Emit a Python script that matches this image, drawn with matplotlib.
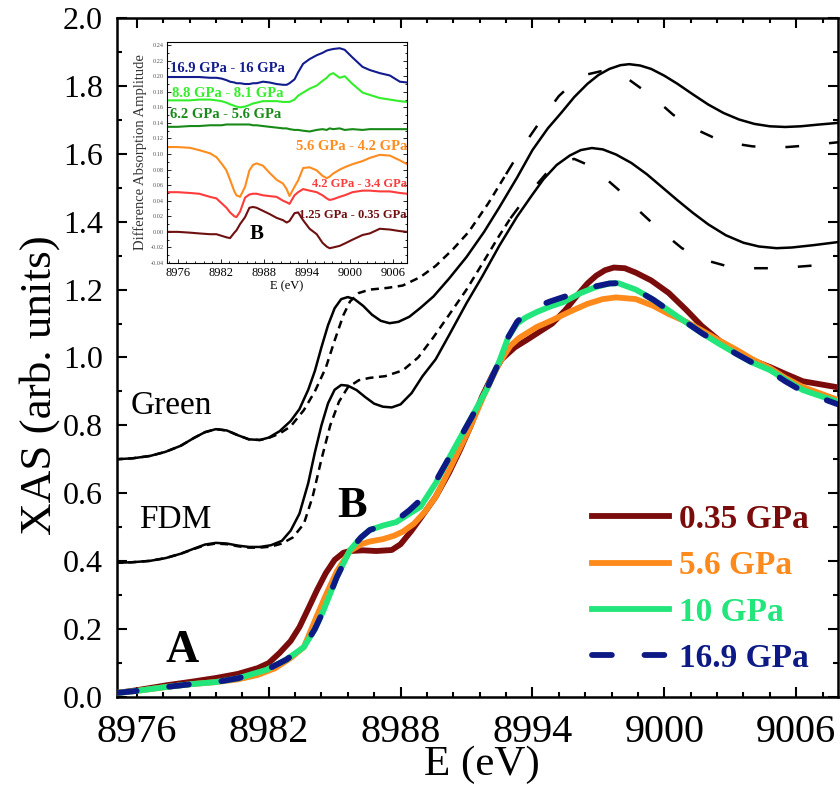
import numpy as np
import matplotlib.pyplot as plt
from matplotlib.ticker import MultipleLocator, FormatStrFormatter

plt.rcParams['font.family'] = ['Liberation Serif', 'DejaVu Serif']

# ---- measured XANES spectra (normalised) ----
e_035 = [8975.1, 8976, 8977.4, 8978.5, 8979.6, 8980.6, 8981.5, 8982.0, 8982.5, 8983.0,
         8983.4, 8983.8, 8984.2, 8984.6, 8985.0, 8985.4, 8985.7, 8986.3, 8986.9, 8987.6,
         8988.0, 8988.5, 8989.0, 8989.6, 8990.2, 8990.7, 8991.2, 8991.7, 8992.2, 8992.6,
         8993.2, 8993.7, 8994.3, 8994.9, 8995.5, 8996.0, 8996.5, 8996.9, 8997.3, 8997.7,
         8998.2, 8998.7, 8999.4, 9000.2, 9001.0, 9001.7, 9002.5, 9003.3, 9004.0, 9004.8,
         9005.5, 9006.3, 9007.9]
xas_035 = [0.012, 0.02, 0.035, 0.045, 0.056, 0.068, 0.085, 0.10, 0.13, 0.165,
           0.206, 0.26, 0.315, 0.365, 0.404, 0.425, 0.43, 0.432, 0.43, 0.433,
           0.45, 0.49, 0.535, 0.59, 0.66, 0.727, 0.80, 0.884, 0.95, 0.995,
           1.03, 1.05, 1.075, 1.10, 1.14, 1.18, 1.218, 1.241, 1.257, 1.265,
           1.263, 1.25, 1.227, 1.19, 1.14, 1.093, 1.05, 1.015, 0.992, 0.972,
           0.952, 0.93, 0.912]

e_56 = [8975.1, 8976, 8977.4, 8978.5, 8979.6, 8980.6, 8981.5, 8982.3, 8983.0, 8983.6,
        8984.2, 8984.6, 8985.1, 8985.7, 8986.2, 8986.6, 8987.2, 8987.7, 8988.1, 8988.6,
        8989.1, 8989.6, 8990.3, 8991.1, 8991.8, 8992.5, 8993.0, 8993.4, 8994.2, 8994.9,
        8995.7, 8996.5, 8997.2, 8997.8, 8998.7, 8999.5, 9000.2, 9001.0, 9001.7, 9002.5,
        9003.3, 9004.0, 9004.8, 9005.5, 9006.3, 9007.9]
xas_56 = [0.012, 0.018, 0.03, 0.038, 0.044, 0.052, 0.065, 0.085, 0.115, 0.147,
          0.24, 0.30, 0.37, 0.43, 0.45, 0.458, 0.465, 0.475, 0.487, 0.51,
          0.545, 0.59, 0.68, 0.786, 0.89, 0.985, 1.035, 1.058, 1.09, 1.11,
          1.135, 1.158, 1.172, 1.177, 1.172, 1.152, 1.128, 1.105, 1.08, 1.05,
          1.022, 0.995, 0.969, 0.94, 0.913, 0.875]

e_10 = [8975.1, 8976, 8977.4, 8978.5, 8979.6, 8980.6, 8981.9, 8982.8, 8983.6, 8984.1,
        8984.5, 8985.1, 8985.7, 8986.2, 8986.6, 8987.2, 8987.8, 8988.4, 8988.9, 8989.6,
        8990.4, 8991.2, 8991.9, 8992.5, 8992.9, 8993.3, 8993.7, 8994.2, 8994.8, 8995.4,
        8996.2, 8996.9, 8997.5, 8997.9, 8998.7, 8999.5, 9000.5, 9001.7, 9002.5, 9003.3,
        9004.0, 9004.8, 9005.5, 9006.3, 9007.9]
xas_10 = [0.012, 0.018, 0.03, 0.038, 0.044, 0.055, 0.08, 0.11, 0.147, 0.2,
          0.256, 0.353, 0.433, 0.47, 0.492, 0.505, 0.515, 0.54, 0.56, 0.63,
          0.727, 0.82, 0.904, 0.99, 1.06, 1.1, 1.118, 1.134, 1.15, 1.163,
          1.19, 1.208, 1.218, 1.219, 1.2, 1.17, 1.125, 1.072, 1.04, 1.01,
          0.985, 0.963, 0.935, 0.904, 0.869]

e_169 = e_10
xas_169 = [0.012, 0.018, 0.03, 0.038, 0.044, 0.055, 0.08, 0.11, 0.147, 0.2,
           0.256, 0.353, 0.433, 0.47, 0.492, 0.505, 0.52, 0.55, 0.58, 0.635,
           0.727, 0.82, 0.904, 0.99, 1.06, 1.105, 1.13, 1.15, 1.165, 1.178,
           1.195, 1.21, 1.218, 1.219, 1.2, 1.17, 1.125, 1.072, 1.04, 1.01,
           0.985, 0.96, 0.93, 0.9, 0.862]

# ---- simulations (offset), solid and dashed variants ----
e_green = [8975, 8975.8, 8976.6, 8977.3, 8978.0, 8978.6, 8979.1, 8979.6, 8980.1, 8980.6,
           8981.1, 8981.6, 8982.0, 8982.5, 8983.0, 8983.4, 8983.8, 8984.1, 8984.4, 8984.7,
           8985.0, 8985.3, 8985.6, 8985.9, 8986.3, 8986.7, 8987.1, 8987.5, 8987.9, 8988.4,
           8988.9, 8989.5, 8990.2, 8991.0, 8991.8, 8992.5, 8993.3, 8994.0, 8994.7, 8995.3,
           8995.9, 8996.5, 8997.0, 8997.5, 8998.0, 8998.4, 8998.9, 8999.4, 9000.0, 9000.6,
           9001.3, 9002.0, 9002.7, 9003.4, 9004.1, 9004.8, 9005.5, 9006.2, 9007.0, 9007.9]
green = [0.700, 0.703, 0.710, 0.722, 0.740, 0.763, 0.780, 0.789, 0.785, 0.771,
         0.759, 0.757, 0.764, 0.783, 0.813, 0.848, 0.905, 0.96, 1.03, 1.095,
         1.145, 1.172, 1.178, 1.172, 1.152, 1.126, 1.108, 1.101, 1.105, 1.12,
         1.146, 1.18, 1.232, 1.296, 1.37, 1.443, 1.53, 1.611, 1.675, 1.72,
         1.767, 1.806, 1.832, 1.850, 1.861, 1.864, 1.86, 1.85, 1.83, 1.806,
         1.775, 1.745, 1.72, 1.701, 1.688, 1.681, 1.679, 1.681, 1.686, 1.691]

e_green_d = [8975, 8975.8, 8976.6, 8977.3, 8978.0, 8978.6, 8979.1, 8979.6, 8980.1, 8980.6,
             8981.1, 8981.6, 8982.0, 8982.5, 8983.0, 8983.6, 8984.1, 8984.6, 8985.0, 8985.4,
             8985.7, 8986.1, 8986.6, 8987.4, 8988.1, 8988.9, 8989.6, 8990.4, 8991.1, 8992.0,
             8992.8, 8993.6, 8994.4, 8995.2, 8995.9, 8996.5, 8997.1, 8997.7, 8998.4, 8999.0,
             8999.7, 9000.4, 9001.0, 9001.7, 9002.4, 9003.2, 9004.0, 9004.8, 9005.6, 9006.6,
             9007.9]
green_d = [0.700, 0.703, 0.710, 0.722, 0.740, 0.763, 0.780, 0.789, 0.785, 0.771,
           0.759, 0.757, 0.763, 0.776, 0.797, 0.845, 0.90, 0.97, 1.05, 1.125,
           1.165, 1.19, 1.20, 1.205, 1.212, 1.237, 1.27, 1.32, 1.37, 1.455,
           1.54, 1.625, 1.70, 1.77, 1.812, 1.834, 1.843, 1.84, 1.818, 1.79,
           1.755, 1.715, 1.69, 1.664, 1.643, 1.63, 1.622, 1.619, 1.62, 1.625,
           1.634]

e_fdm = [8975, 8975.8, 8976.6, 8977.3, 8978.0, 8978.6, 8979.1, 8979.6, 8980.1, 8980.6,
         8981.1, 8981.6, 8982.1, 8982.6, 8983.0, 8983.4, 8983.8, 8984.1, 8984.4, 8984.7,
         8985.0, 8985.3, 8985.6, 8986.0, 8986.4, 8986.8, 8987.2, 8987.6, 8988.0, 8988.5,
         8989.0, 8989.6, 8990.2, 8991.0, 8991.7, 8992.5, 8993.3, 8994.0, 8994.5, 8995.1,
         8995.7, 8996.2, 8996.7, 8997.2, 8997.8, 8998.5, 8999.2, 8999.8, 9000.6, 9001.3,
         9002.0, 9002.8, 9003.6, 9004.3, 9005.1, 9005.8, 9006.8, 9007.9]
fdm = [0.395, 0.397, 0.401, 0.409, 0.422, 0.437, 0.449, 0.454, 0.452, 0.446,
       0.442, 0.442, 0.447, 0.46, 0.49, 0.54, 0.63, 0.72, 0.80, 0.865,
       0.905, 0.919, 0.917, 0.904, 0.883, 0.864, 0.855, 0.853, 0.862, 0.895,
       0.945, 0.995, 1.065, 1.16, 1.237, 1.33, 1.415, 1.48, 1.525, 1.567,
       1.595, 1.611, 1.617, 1.613, 1.598, 1.573, 1.54, 1.507, 1.463, 1.426,
       1.392, 1.36, 1.338, 1.327, 1.322, 1.324, 1.331, 1.34]

e_fdm_d = [8975, 8975.8, 8976.6, 8977.3, 8978.0, 8978.6, 8979.1, 8979.6, 8980.1, 8980.6,
           8981.1, 8981.6, 8982.1, 8982.6, 8983.1, 8983.6, 8984.0, 8984.4, 8984.8, 8985.2,
           8985.6, 8986.1, 8986.6, 8987.3, 8988.1, 8988.8, 8989.5, 8990.2, 8991.0, 8991.8,
           8992.5, 8993.0, 8993.8, 8994.6, 8995.3, 8995.9, 8996.5, 8997.1, 8997.9, 8998.8,
           8999.8, 9000.8, 9001.8, 9002.8, 9003.8, 9004.8, 9005.8, 9006.8, 9007.9]
fdm_d = [0.395, 0.397, 0.401, 0.409, 0.422, 0.436, 0.447, 0.452, 0.45, 0.444,
         0.44, 0.44, 0.443, 0.452, 0.47, 0.51, 0.59, 0.70, 0.80, 0.87,
         0.912, 0.933, 0.94, 0.945, 0.962, 1.0, 1.06, 1.125, 1.2, 1.285,
         1.36, 1.41, 1.48, 1.54, 1.575, 1.585, 1.568, 1.54, 1.495, 1.435,
         1.375, 1.322, 1.288, 1.27, 1.263, 1.263, 1.266, 1.271, 1.28]

# ---- difference spectra for the inset ----
e_diff = [8974.5, 8976, 8977.7, 8979, 8980.5, 8981.4, 8982.1, 8982.8, 8983.3, 8983.9,
          8984.2, 8984.7, 8985.4, 8986.0, 8986.5, 8987.0, 8987.9, 8988.8, 8989.8, 8990.7,
          8991.2, 8991.6, 8992.3, 8992.8, 8993.5, 8994.4, 8995.4, 8996.2, 8996.8, 8997.2,
          8997.7, 8998.6, 8999.3, 9000.4, 9001.8, 9002.8, 9004.2, 9005.6, 9007.0, 9008.0]
d_169_16 = [0.199, 0.199, 0.199, 0.199, 0.198, 0.198, 0.197, 0.195, 0.193, 0.192,
            0.191, 0.191, 0.190, 0.190, 0.191, 0.191, 0.193, 0.192, 0.190, 0.189,
            0.189, 0.191, 0.196, 0.205, 0.216, 0.222, 0.227, 0.230, 0.233, 0.234,
            0.235, 0.236, 0.234, 0.224, 0.212, 0.208, 0.204, 0.201, 0.193, 0.192]
d_88_81 = [0.169, 0.169, 0.169, 0.170, 0.170, 0.169, 0.168, 0.166, 0.164, 0.162,
           0.161, 0.160, 0.161, 0.163, 0.165, 0.166, 0.168, 0.168, 0.168, 0.167,
           0.167, 0.167, 0.170, 0.175, 0.179, 0.184, 0.188, 0.194, 0.198, 0.202,
           0.204, 0.198, 0.200, 0.190, 0.179, 0.176, 0.172, 0.170, 0.168, 0.167]
d_62_56 = [0.135, 0.135, 0.136, 0.136, 0.137, 0.137, 0.137, 0.138, 0.138, 0.138,
           0.138, 0.138, 0.138, 0.138, 0.137, 0.137, 0.136, 0.135, 0.134, 0.133,
           0.133, 0.132, 0.131, 0.131, 0.130, 0.129, 0.131, 0.132, 0.131, 0.133,
           0.132, 0.133, 0.131, 0.132, 0.131, 0.132, 0.132, 0.132, 0.132, 0.132]
d_56_42 = [0.109, 0.109, 0.108, 0.105, 0.101, 0.096, 0.088, 0.079, 0.067, 0.052,
           0.047, 0.045, 0.058, 0.079, 0.086, 0.088, 0.085, 0.076, 0.067, 0.062,
           0.055, 0.046, 0.058, 0.066, 0.082, 0.083, 0.079, 0.072, 0.069, 0.071,
           0.075, 0.080, 0.083, 0.087, 0.091, 0.095, 0.099, 0.098, 0.092, 0.087]
d_42_34 = [0.051, 0.051, 0.050, 0.049, 0.045, 0.043, 0.037, 0.031, 0.025, 0.020,
           0.019, 0.026, 0.044, 0.048, 0.049, 0.049, 0.047, 0.046, 0.045, 0.040,
           0.038, 0.036, 0.047, 0.051, 0.055, 0.053, 0.051, 0.047, 0.043, 0.041,
           0.042, 0.045, 0.047, 0.051, 0.053, 0.053, 0.052, 0.052, 0.050, 0.049]
d_125_035 = [0.000, 0.000, -0.001, -0.002, -0.003, -0.003, -0.005, -0.007, -0.008, -0.001,
             0.002, 0.010, 0.019, 0.031, 0.032, 0.031, 0.027, 0.023, 0.018, 0.015,
             0.012, 0.014, 0.024, 0.025, 0.015, 0.004, -0.003, -0.014, -0.019, -0.021,
             -0.020, -0.018, -0.015, -0.010, -0.004, -0.002, 0.004, 0.003, 0.001, 0.000]

diff_labels = ['16.9 GPa - 16 GPa', '8.8 GPa - 8.1 GPa', '6.2 GPa - 5.6 GPa',
               '5.6 GPa - 4.2 GPa', '4.2 GPa - 3.4 GPa', '1.25 GPa - 0.35 GPa']
diff_colors = ['#121c8c', '#33ee2a', '#178a17', '#ff8c1e', '#ff3b3b', '#6e1010']

c035, c56, c10, c169 = '#7a0c0c', '#ff8a1c', '#22e67c', '#0d1a86'

fig = plt.figure(figsize=(8.4, 7.85), dpi=100)
ax = fig.add_axes([117/840, 88/785, 721/840, 679/785])

# simulations: Green (upper pair) and FDM (lower pair)
ax.plot(e_green, green, color='k', lw=1.8, zorder=3)
ax.plot(e_fdm, fdm, color='k', lw=1.8, zorder=3)


def dashed(e, y, split):
    e = np.asarray(e)
    y = np.asarray(y)
    near = e <= split
    far = e >= split
    ax.plot(e[near], y[near], color='k', lw=1.8, dashes=(3.2, 2.2), zorder=3)
    ax.plot(e[far], y[far], color='k', lw=1.8, dashes=(5.5, 12), zorder=3)


dashed(e_green_d, green_d, 8992.8)
dashed(e_fdm_d, fdm_d, 8993.0)

# experiment
l1, = ax.plot(e_035, xas_035, color=c035, lw=4.2, label='0.35 GPa', zorder=4)
l2, = ax.plot(e_56, xas_56, color=c56, lw=4.2, label='5.6 GPa', zorder=5)
l3, = ax.plot(e_10, xas_10, color=c10, lw=4.2, label='10 GPa', zorder=6)
l4, = ax.plot(e_169, xas_169, color=c169, lw=4.2, dashes=(3.4, 5.6),
              dash_capstyle='round', label='16.9 GPa', zorder=7)

ax.set_xlim(8975.1, 9007.9)
ax.set_ylim(0, 2.0)
ax.xaxis.set_major_locator(MultipleLocator(6))
ax.xaxis.set_minor_locator(MultipleLocator(1.2))
ax.yaxis.set_major_locator(MultipleLocator(0.2))
ax.yaxis.set_minor_locator(MultipleLocator(0.1))
ax.yaxis.set_major_formatter(FormatStrFormatter('%.1f'))
ax.tick_params(which='both', direction='in', top=True, right=True, width=1.5)
ax.tick_params(which='major', length=7)
ax.tick_params(which='minor', length=3.5)
ax.tick_params(axis='x', labelsize=29, pad=12)
ax.tick_params(axis='y', labelsize=23, pad=10)
for s in ax.spines.values():
    s.set_linewidth(1.8)

fig.text(40/840, 1 - 385/785, 'XAS (arb. units)', rotation=90, fontsize=32.5,
         ha='center', va='center')
fig.text(482/840, 1 - 765/785, 'E (eV)', fontsize=31, ha='center', va='center')

ax.text(8975.7, 0.834, 'Green', fontsize=24)
ax.text(8976.1, 0.498, 'FDM', fontsize=24)
ax.text(8977.3, 0.103, 'A', fontsize=33, fontweight='bold')
ax.text(8985.1, 0.53, 'B', fontsize=32, fontweight='bold')

leg = ax.legend(handles=[l1, l2, l3, l4], loc='upper left', bbox_to_anchor=(0.659, 0.284),
                frameon=False, prop={'weight': 'bold', 'size': 24}, handlelength=2.3,
                handletextpad=0.3, labelspacing=0.46, borderpad=0, borderaxespad=0)
for txt, ln in zip(leg.get_texts(), leg.get_lines()):
    txt.set_color(ln.get_color())

# inset: difference spectra
axi = fig.add_axes([167/840, 1 - 263/785, 240/840, 221/785])
for d, col in zip([d_169_16, d_88_81, d_62_56, d_56_42, d_42_34, d_125_035], diff_colors):
    axi.plot(e_diff, d, color=col, lw=1.5)
axi.set_xlim(8974.5, 9008)
axi.set_ylim(-0.04, 0.244)
axi.xaxis.set_major_locator(MultipleLocator(6))
axi.xaxis.set_minor_locator(MultipleLocator(1.2))
axi.yaxis.set_major_locator(MultipleLocator(0.02))
axi.yaxis.set_minor_locator(MultipleLocator(0.01))
axi.yaxis.set_major_formatter(FormatStrFormatter('%.2f'))
axi.tick_params(which='both', direction='in', right=True, width=0.6)
axi.tick_params(which='major', length=3)
axi.tick_params(which='minor', length=1.6)
axi.tick_params(axis='x', labelsize=9, pad=3)
axi.tick_params(axis='y', labelsize=4.5, pad=2, labelcolor='#555555')
for s in axi.spines.values():
    s.set_linewidth(0.8)
axi.set_xlabel('E (eV)', fontsize=9, labelpad=1)
axi.set_ylabel('Difference Absorption Amplitude', fontsize=10.5, labelpad=3, color='#333333')

label_pos = [(0.0125, 0.878, 'left', 10.5), (0.02, 0.769, 'left', 10.5),
             (0.0125, 0.67, 'left', 10.5), (1.0, 0.525, 'right', 10.5),
             (1.0, 0.357, 'right', 9), (1.0, 0.217, 'right', 9)]
for (x, y, ha, fs), lab, col in zip(label_pos, diff_labels, diff_colors):
    axi.text(x, y, lab, transform=axi.transAxes, ha=ha, va='center', fontsize=fs,
             fontweight='bold', color=col)
axi.text(0.375, 0.131, 'B', transform=axi.transAxes, ha='center', va='center',
         fontsize=15, fontweight='bold')

fig.savefig('out.png', dpi=100)
